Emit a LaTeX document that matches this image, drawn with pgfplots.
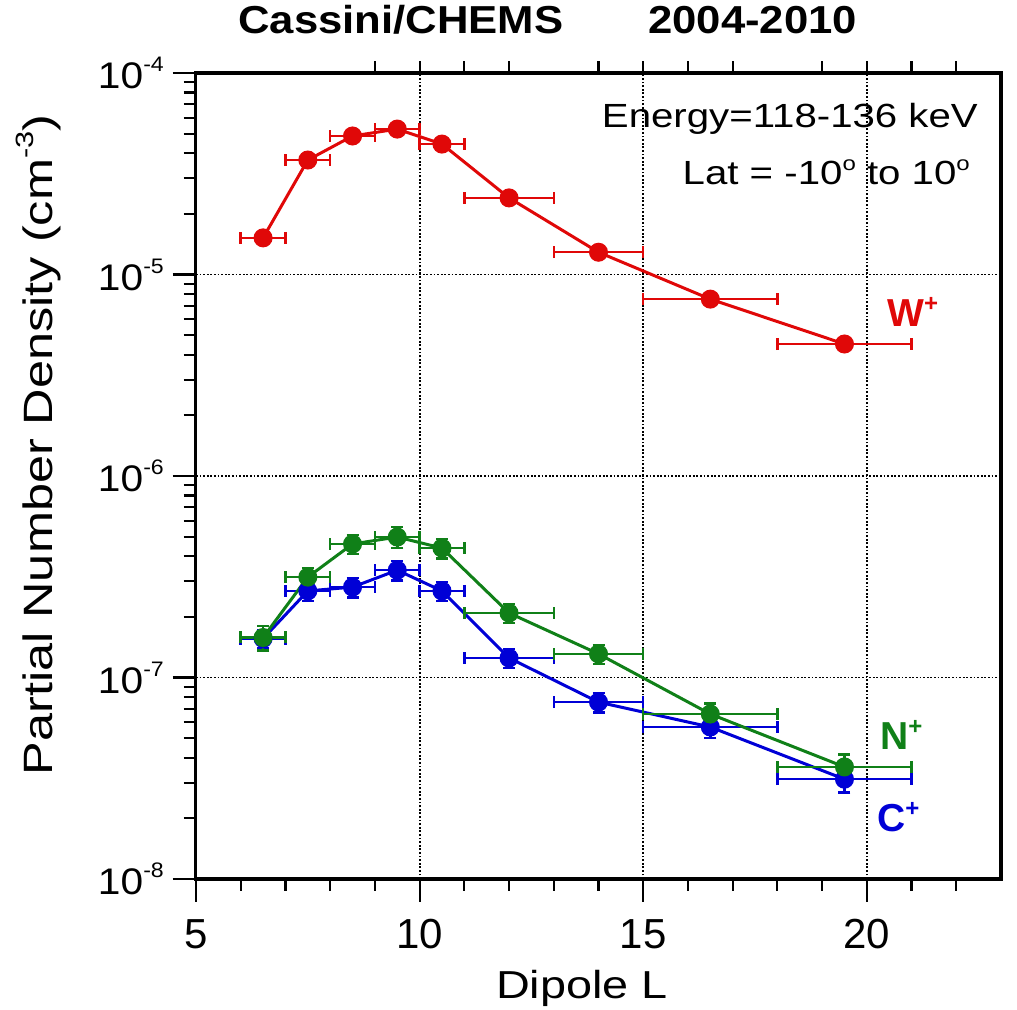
\documentclass[border=0pt]{standalone}
\usepackage{pgfplots}
\pgfplotsset{compat=1.18}
\usepackage{pgfplotstable}
\usepackage{fontspec}
\setmainfont{Liberation Sans}
\newfontfamily\wide[FakeStretch=1.2]{Liberation Sans}
\newfontfamily\wideyl[FakeStretch=1.23]{Liberation Sans}
\newfontfamily\widetk[FakeStretch=1.1]{Liberation Sans}
\newfontfamily\wideb[FakeStretch=1.12]{Liberation Sans Bold}
\definecolor{cRed}{RGB}{224,8,8}
\definecolor{cGreen}{RGB}{16,128,24}
\definecolor{cBlue}{RGB}{0,0,214}
\newcommand{\ytl}[1]{{\widetk\fontsize{37}{37}\selectfont 10\raisebox{17pt}{\fontsize{21}{21}\selectfont #1}}}

\pgfplotstableread{
x y ex
6.5 1.52e-5 0.5
7.5 3.70e-5 0.5
8.5 4.87e-5 0.5
9.5 5.27e-5 0.5
10.5 4.44e-5 0.5
12 2.40e-5 1
14 1.29e-5 1
16.5 7.55e-6 1.5
19.5 4.52e-6 1.5
}\redtab
\pgfplotstableread{
x y ex ey
6.5 1.58e-7 0.5 0.14
7.5 3.15e-7 0.5 0.11
8.5 4.60e-7 0.5 0.11
9.5 4.98e-7 0.5 0.12
10.5 4.39e-7 0.5 0.11
12 2.09e-7 1 0.11
14 1.31e-7 1 0.11
16.5 6.59e-8 1.5 0.13
19.5 3.60e-8 1.5 0.15
}\greentab
\pgfplotstableread{
x y ex ey
6.5 1.56e-7 0.5 0.10
7.5 2.69e-7 0.5 0.11
8.5 2.81e-7 0.5 0.11
9.5 3.41e-7 0.5 0.11
10.5 2.69e-7 0.5 0.11
12 1.25e-7 1 0.11
14 7.55e-8 1 0.11
16.5 5.68e-8 1.5 0.12
19.5 3.13e-8 1.5 0.14
}\bluetab

\pgfplotsset{
  myframe/.style={
    at={(0pt,0pt)}, anchor=south west,
    scale only axis, width=805pt, height=806pt,
    xmin=5, xmax=23, ymin=1e-8, ymax=1e-4,
    xtick={5,10,15,20}, minor x tick num=4,
    ytick={1e-8,1e-7,1e-6,1e-5,1e-4},
    tick align=outside,
    major tick length=23pt, minor tick length=12pt,
    every tick/.append style={black, line width=2.2pt},
    axis line style={line width=3pt},
  }
}

\begin{document}
\begin{tikzpicture}
% top ticks (y reversed so the lower x axis sits on top)
\begin{axis}[ymode=log, myframe, y dir=reverse, xtick pos=left, xticklabels={},
  ymajorticks=false, yminorticks=false]
\end{axis}
% right ticks (x reversed so the left y axis sits on the right)
\begin{axis}[ymode=log, myframe, x dir=reverse, ytick pos=left, yticklabels={},
  xmajorticks=false, xminorticks=false]
\end{axis}
\begin{axis}[ymode=log, myframe,
  xtick pos=left, ytick pos=left,
  xticklabels={5,10,15,20},
  yticklabels={\ytl{-8},\ytl{-7},\ytl{-6},\ytl{-5},\ytl{-4}},
  grid=major,
  major grid style={black, line width=1.8pt, dash pattern=on 1.8pt off 1.8pt},
  xticklabel style={font=\fontsize{42}{42}\selectfont, yshift=-14pt},
  yticklabel style={inner sep=0pt, xshift=-9pt},
]
\addplot[cBlue, line width=3pt, mark=*, mark size=8pt,
  error bars/.cd, x dir=both, x explicit, y dir=both, y explicit relative,
  error bar style={line width=2.5pt}, error mark options={rotate=90, mark size=6pt, line width=2.5pt, cBlue}]
  table[x=x, y=y, x error=ex, y error=ey] {\bluetab};
\addplot[cGreen, line width=3pt, mark=*, mark size=8pt,
  error bars/.cd, x dir=both, x explicit, y dir=both, y explicit relative,
  error bar style={line width=2.5pt}, error mark options={rotate=90, mark size=6pt, line width=2.5pt, cGreen}]
  table[x=x, y=y, x error=ex, y error=ey] {\greentab};
\addplot[cRed, line width=3pt, mark=*, mark size=8pt,
  error bars/.cd, x dir=both, x explicit,
  error bar style={line width=2.5pt}, error mark options={rotate=90, mark size=6pt, line width=2.5pt, cRed}]
  table[x=x, y=y, x error=ex] {\redtab};
\end{axis}
% title
\node[anchor=base west, inner sep=0pt] at (42pt,845pt) {\wideb\fontsize{39}{39}\selectfont Cassini/CHEMS};
\node[anchor=base west, inner sep=0pt] at (452pt,845pt) {\wideb\fontsize{39}{39}\selectfont 2004-2010};
% annotations
\node[anchor=base east, inner sep=0pt] at (782pt,751pt) {\wide\fontsize{33.5}{33.5}\selectfont Energy=118-136 keV};
\node[anchor=base east, inner sep=0pt] at (774pt,694pt) {\wide\fontsize{33.5}{33.5}\selectfont Lat = -10\raisebox{14pt}{\fontsize{20}{20}\selectfont o} to 10\raisebox{14pt}{\fontsize{20}{20}\selectfont o}};
\node[anchor=base west, inner sep=0pt, text=cRed] at (691pt,552pt) {\bfseries\fontsize{39}{39}\selectfont W\raisebox{15pt}{\fontsize{24}{24}\selectfont +}};
\node[anchor=base west, inner sep=0pt, text=cGreen] at (684pt,129pt) {\bfseries\fontsize{39}{39}\selectfont N\raisebox{15pt}{\fontsize{24}{24}\selectfont +}};
\node[anchor=base west, inner sep=0pt, text=cBlue] at (681pt,47pt) {\bfseries\fontsize{39}{39}\selectfont C\raisebox{15pt}{\fontsize{24}{24}\selectfont +}};
% axis labels
\node[anchor=base, inner sep=0pt] at (386pt,-119pt) {\wide\fontsize{39}{39}\selectfont Dipole L};
\node[anchor=base, inner sep=0pt, rotate=90] at (-143pt,434pt) {\wideyl\fontsize{41}{41}\selectfont Partial Number Density (cm\raisebox{19pt}{\fontsize{25}{25}\selectfont -3})};
\pgfresetboundingbox
\path[use as bounding box] (-196pt,-130pt) rectangle (821pt,879pt);
\end{tikzpicture}
\end{document}
